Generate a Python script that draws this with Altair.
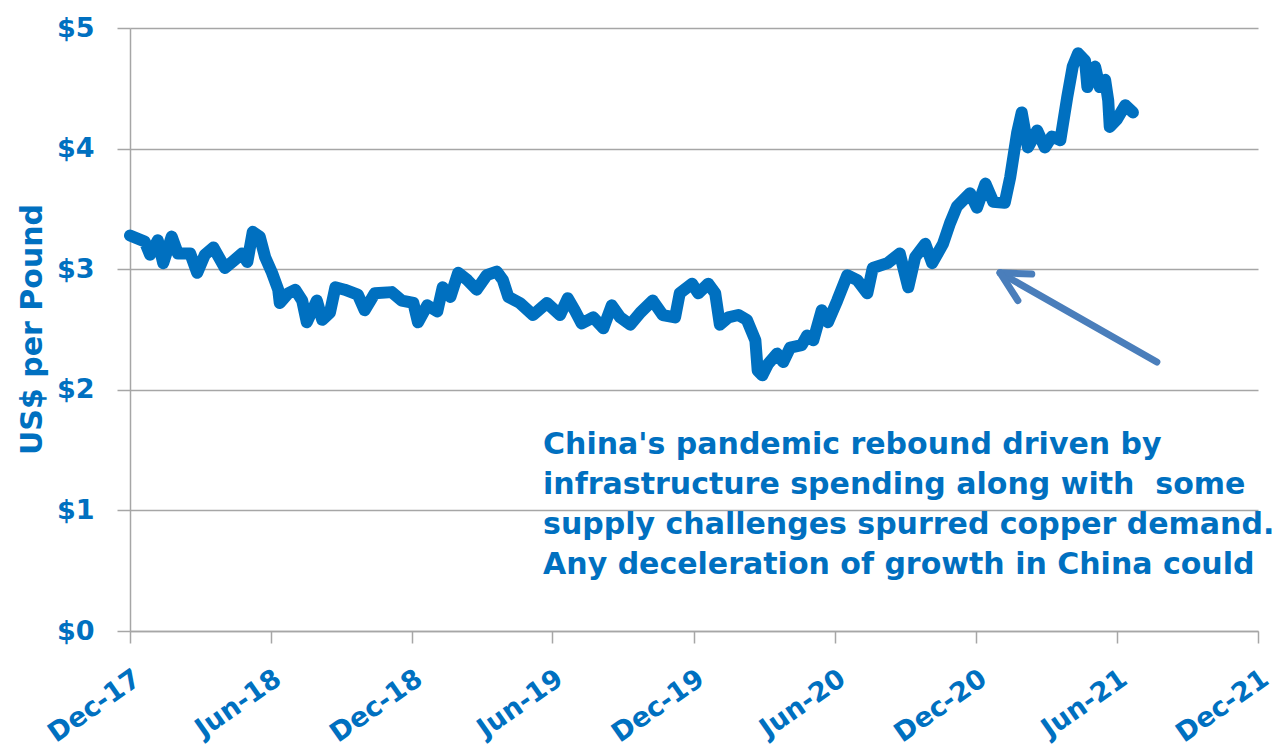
import altair as alt
import pandas as pd

# ---- data ----
dates = [
    "2017-12-01", "2017-12-20", "2017-12-27", "2018-01-06", "2018-01-13", "2018-01-24",
    "2018-02-01", "2018-02-17", "2018-02-26", "2018-03-08", "2018-03-19", "2018-04-03",
    "2018-04-16", "2018-04-25", "2018-05-02", "2018-05-09", "2018-05-18", "2018-05-25",
    "2018-06-03", "2018-06-11", "2018-06-13", "2018-06-24", "2018-07-03", "2018-07-12",
    "2018-07-18", "2018-07-31", "2018-08-07", "2018-08-17", "2018-08-24", "2018-09-05",
    "2018-09-22", "2018-10-01", "2018-10-14", "2018-11-05", "2018-11-18", "2018-12-03",
    "2018-12-09", "2018-12-21", "2019-01-03", "2019-01-10", "2019-01-20", "2019-01-30",
    "2019-02-11", "2019-02-23", "2019-03-08", "2019-03-21", "2019-03-29", "2019-04-05",
    "2019-04-20", "2019-05-07", "2019-05-25", "2019-06-11", "2019-06-21", "2019-06-30",
    "2019-07-09", "2019-07-24", "2019-08-06", "2019-08-17", "2019-08-28", "2019-09-10",
    "2019-09-23", "2019-10-09", "2019-10-22", "2019-11-07", "2019-11-13", "2019-11-29",
    "2019-12-07", "2019-12-20", "2019-12-29", "2020-01-04", "2020-01-15", "2020-01-28",
    "2020-02-08", "2020-02-19", "2020-02-22", "2020-02-28", "2020-03-06", "2020-03-18",
    "2020-03-26", "2020-04-04", "2020-04-19", "2020-04-26", "2020-05-04", "2020-05-15",
    "2020-05-23", "2020-06-04", "2020-06-17", "2020-06-30", "2020-07-13", "2020-07-20",
    "2020-08-08", "2020-08-24", "2020-09-04", "2020-09-13", "2020-09-26", "2020-10-05",
    "2020-10-19", "2020-10-28", "2020-11-06", "2020-11-23", "2020-12-02", "2020-12-13",
    "2020-12-23", "2021-01-07", "2021-01-14", "2021-01-23", "2021-01-29", "2021-02-06",
    "2021-02-18", "2021-02-28", "2021-03-09", "2021-03-20", "2021-03-29", "2021-04-05",
    "2021-04-12", "2021-04-21", "2021-04-24", "2021-05-04", "2021-05-10", "2021-05-17",
    "2021-05-21", "2021-05-23", "2021-06-01", "2021-06-12", "2021-06-22",
]
prices = [
    3.28, 3.23, 3.12, 3.24, 3.05, 3.27,
    3.13, 3.13, 2.97, 3.12, 3.18, 3.01,
    3.08, 3.13, 3.06, 3.31, 3.27, 3.10,
    2.97, 2.83, 2.72, 2.80, 2.83, 2.74,
    2.56, 2.74, 2.58, 2.64, 2.85, 2.83,
    2.79, 2.66, 2.80, 2.81, 2.74, 2.72,
    2.56, 2.70, 2.65, 2.85, 2.77, 2.97,
    2.91, 2.83, 2.95, 2.98, 2.91, 2.77,
    2.72, 2.62, 2.72, 2.62, 2.76, 2.66,
    2.55, 2.60, 2.51, 2.70, 2.60, 2.54,
    2.64, 2.74, 2.62, 2.60, 2.80, 2.88,
    2.80, 2.88, 2.80, 2.54, 2.60, 2.62,
    2.58, 2.41, 2.16, 2.12, 2.21, 2.30,
    2.23, 2.35, 2.37, 2.45, 2.41, 2.66,
    2.56, 2.74, 2.95, 2.91, 2.80, 3.01,
    3.05, 3.13, 2.85, 3.10, 3.21, 3.05,
    3.21, 3.38, 3.52, 3.63, 3.51, 3.71,
    3.56, 3.55, 3.76, 4.13, 4.30, 4.01,
    4.15, 4.01, 4.10, 4.07, 4.43, 4.68,
    4.79, 4.73, 4.51, 4.68, 4.51, 4.57,
    4.40, 4.18, 4.24, 4.36, 4.30,
]

y_ticks = [0, 1, 2, 3, 4, 5]
x_tick_dates = [(2017, 12), (2018, 6), (2018, 12), (2019, 6), (2019, 12),
                (2020, 6), (2020, 12), (2021, 6), (2021, 12)]

note_lines = [
    "China's pandemic rebound driven by",
    "infrastructure spending along with\u00a0\u00a0some",
    "supply challenges spurred copper demand.",
    "Any deceleration of growth in China could",
]
note_date = ["2019-05-20"]
note_value = [1.67]

# arrow segments (shaft, two head arms): start/end dates and values
arrow_d1 = ["2021-07-23", "2021-01-01", "2021-01-01"]
arrow_v1 = [2.23, 2.97, 2.97]
arrow_d2 = ["2021-01-01", "2021-02-11", "2021-01-24"]
arrow_v2 = [2.97, 2.96, 2.74]

BLUE = "#0070C0"
GRID = "#A6A6A6"
FONT = "DejaVu Sans"

df = pd.DataFrame({"date": dates, "price": prices})
arrow_df = pd.DataFrame({"d1": arrow_d1, "v1": arrow_v1, "d2": arrow_d2, "v2": arrow_v2})
note_df = pd.DataFrame({"date": note_date, "v": note_value})

x_scale = alt.Scale(
    type="utc",
    domain=[alt.DateTime(year=2017, month=12, date=1, utc=True),
            alt.DateTime(year=2021, month=12, date=1, utc=True)],
)
y_scale = alt.Scale(domain=[0, 5], nice=False)

x_axis = alt.Axis(
    title=None,
    values=[alt.DateTime(year=y, month=m, date=1, utc=True) for y, m in x_tick_dates],
    labelExpr="utcFormat(datum.value, '%b-%y')",
    labelAngle=-35,
    labelFont=FONT, labelFontSize=27, labelFontWeight="bold", labelColor=BLUE,
    labelPadding=22,
    tickSize=12, tickColor=GRID, tickWidth=1.5,
    domainColor=GRID, domainWidth=1.5,
    grid=False,
    labelOverlap=False,
)
y_axis = alt.Axis(
    title="US$ per Pound",
    values=y_ticks,
    labelExpr="'$' + datum.value",
    labelFont=FONT, labelFontSize=27, labelFontWeight="bold", labelColor=BLUE,
    labelPadding=23,
    tickSize=13, tickColor=GRID, tickWidth=1.5,
    domainColor=GRID, domainWidth=1.5,
    gridColor=GRID, gridWidth=1.5,
    titleFont=FONT, titleFontSize=30, titleFontWeight="bold", titleColor=BLUE,
    titleAngle=-90, titleX=-98, titleY=301, titleAlign="center", titleBaseline="middle",
)

line = alt.Chart(df).mark_line(
    color=BLUE, strokeWidth=12, strokeCap="round", strokeJoin="round"
).encode(
    x=alt.X("date:T", scale=x_scale, axis=x_axis),
    y=alt.Y("price:Q", scale=y_scale, axis=y_axis),
)

arrow = alt.Chart(arrow_df).mark_rule(
    color="#4A7EBB", strokeWidth=7, strokeCap="round"
).encode(
    x=alt.X("d1:T", scale=x_scale),
    y=alt.Y("v1:Q", scale=y_scale),
    x2="d2:T",
    y2="v2:Q",
)

note = alt.Chart(note_df).mark_text(
    text=note_lines, align="left", baseline="top", lineHeight=40,
    font=FONT, fontSize=30, fontWeight="bold", color=BLUE,
).encode(
    x=alt.X("date:T", scale=x_scale),
    y=alt.Y("v:Q", scale=y_scale),
)

chart = alt.layer(line, arrow, note).properties(
    width=1128, height=603,
    padding={"left": 130, "top": 28, "right": 18, "bottom": 117},
    autosize="none",
    background="white",
).configure_view(stroke=None)

chart.save("out.html", embed_options={"renderer": "svg", "actions": False})
